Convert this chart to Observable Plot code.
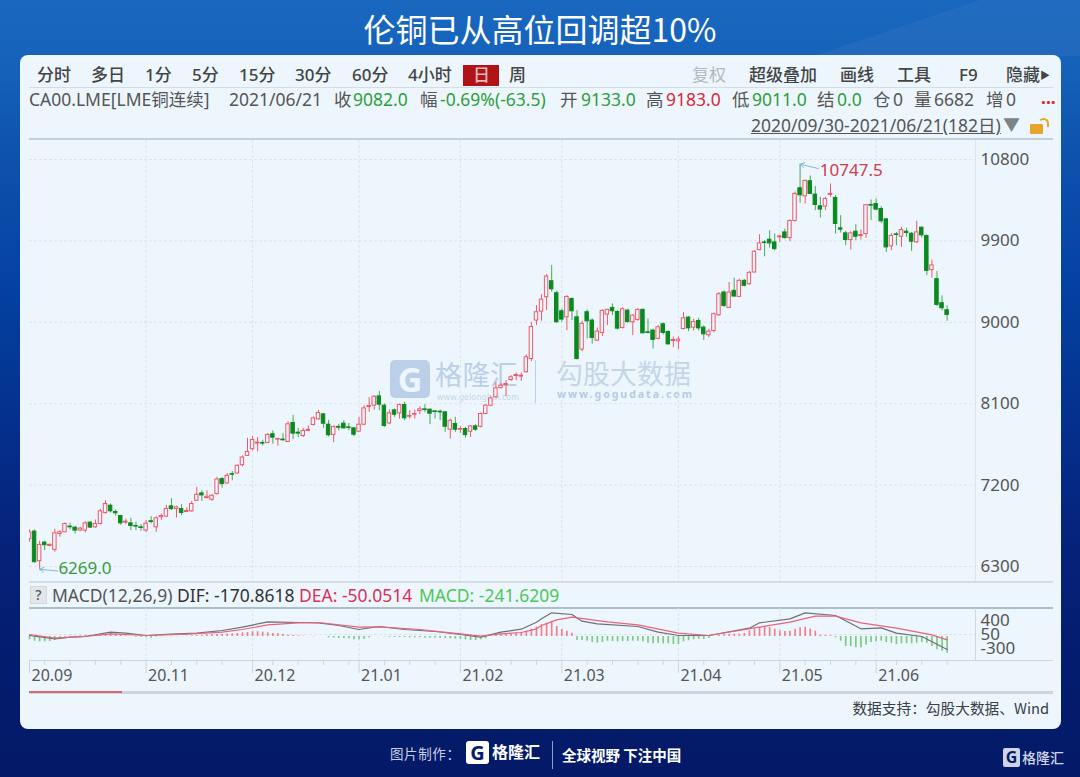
<!DOCTYPE html>
<html lang="zh">
<head>
<meta charset="utf-8">
<script src="https://cdn.jsdelivr.net/npm/d3@7"></script>
<script src="https://cdn.jsdelivr.net/npm/@observablehq/plot@0.6"></script>
<style>
html,body{margin:0;padding:0}
body{width:1080px;height:777px;overflow:hidden;position:relative;font-family:"Noto Sans","Noto Sans CJK SC",sans-serif;
background:linear-gradient(180deg,#1967bf 0%,#1662ba 8%,#0e52ae 20%,#0440a0 38%,#052f8c 55%,#05227a 70%,#041c6e 85%,#041a68 100%);}
#band{position:absolute;left:0;top:0;width:1080px;height:56px;background:rgba(255,255,255,.045);clip-path:polygon(980px 0,1080px 0,1080px 56px,814px 56px)}
#title{position:absolute;left:0;width:1080px;top:5px;text-align:center;color:#fff;font-size:32px;line-height:46px;font-weight:400;font-family:"Noto Sans CJK SC","Noto Sans",sans-serif}
#panel{position:absolute;left:20px;top:55px;width:1041px;height:674px;background:#edf6fd;border-radius:8px}
.a{position:absolute;white-space:nowrap;line-height:22px}
.r1{top:64px;font-size:17px;color:#444;font-weight:500}
.r2{top:88px;font-size:17.5px;color:#555}
.g{color:#2f9e3a}.red{color:#d8293c}
.hl{position:absolute;height:1px}
#main,#macd{position:absolute;left:0}
#main{top:140px}#macd{top:608px}
svg{background:transparent;display:block;overflow:visible}
</style>
</head>
<body>
<div id="band"></div>
<div id="title">伦铜已从高位回调超10%</div>
<div id="panel"></div>

<!-- toolbar -->
<span class="a r1" style="left:37px">分时</span><span class="a r1" style="left:91px">多日</span>
<span class="a r1" style="left:145px">1分</span><span class="a r1" style="left:192px">5分</span>
<span class="a r1" style="left:239px">15分</span><span class="a r1" style="left:295px">30分</span>
<span class="a r1" style="left:352px">60分</span><span class="a r1" style="left:408px">4小时</span>
<div style="position:absolute;left:463px;top:65px;width:36px;height:21px;background:#b01318"></div>
<span class="a r1" style="left:473px;color:#e9b9bb">日</span><span class="a r1" style="left:509px">周</span>
<span class="a r1" style="left:692px;color:#b5b9bd;font-weight:400">复权</span><span class="a r1" style="left:749px">超级叠加</span>
<span class="a r1" style="left:840px">画线</span><span class="a r1" style="left:897px">工具</span>
<span class="a r1" style="left:959px">F9</span><span class="a r1" style="left:1006px">隐藏</span>
<span class="a r1" style="left:1040px;font-size:10px">▶</span>
<div class="hl" style="left:29px;top:87px;width:1024px;background:#d5dde4"></div>

<!-- quote row -->
<span class="a r2" style="left:29px">CA00.LME[LME铜连续]</span><span class="a r2" style="left:229px">2021/06/21</span>
<span class="a r2" style="left:334px">收</span><span class="a r2 g" style="left:353px">9082.0</span>
<span class="a r2" style="left:420px">幅</span><span class="a r2 g" style="left:440px">-0.69%(-63.5)</span>
<span class="a r2" style="left:560px">开</span><span class="a r2 g" style="left:581px">9133.0</span>
<span class="a r2" style="left:646px">高</span><span class="a r2 red" style="left:666px">9183.0</span>
<span class="a r2" style="left:732px">低</span><span class="a r2 g" style="left:752px">9011.0</span>
<span class="a r2" style="left:817px">结</span><span class="a r2 g" style="left:837px">0.0</span>
<span class="a r2" style="left:873px">仓</span><span class="a r2" style="left:893px">0</span>
<span class="a r2" style="left:914px">量</span><span class="a r2" style="left:934px">6682</span>
<span class="a r2" style="left:986px">增</span><span class="a r2" style="left:1006px">0</span>
<span class="a r2 red" style="left:1041px;font-weight:700;top:86px">...</span>
<span class="a r2" style="left:751px;top:114px;text-decoration:underline">2020/09/30-2021/06/21(182日)</span>
<span class="a" style="left:1003px;top:114px;font-size:17px;color:#7d8489">▼</span>
<div style="position:absolute;left:1030px;top:124px;width:13px;height:10px;background:#e8a52c;border-radius:1px"></div>
<div style="position:absolute;left:1038px;top:118px;width:7px;height:7px;border:2px solid #e8a52c;border-bottom:none;border-left-color:transparent;border-radius:6px 6px 0 0"></div>
<div class="hl" style="left:29px;top:138px;width:1024px;height:2px;background:#c3d0da"></div>

<!-- watermark -->
<div style="position:absolute;left:390px;top:360px;width:40px;height:38px;background:#bccfe8;border-radius:5px;color:#edf6fd;font:700 34px/38px 'Noto Sans';text-align:center">G</div>
<span class="a" style="left:435px;top:359px;line-height:28px;font-size:27.5px;color:#bccfe8;font-weight:400;font-family:'Noto Sans CJK SC'">格隆汇</span>
<span class="a" style="left:437px;top:392px;line-height:9px;font-size:8px;color:#c4d5ea;letter-spacing:.3px">www.gelonghui.com</span>
<div style="position:absolute;left:535px;top:360px;width:1px;height:43px;background:#bccfe8"></div>
<span class="a" style="left:556px;top:359px;line-height:27px;font-size:27px;color:#c4d5e8;font-family:'Noto Sans CJK SC'">勾股大数据</span>
<span class="a" style="left:557px;top:388px;line-height:12px;font-size:10.5px;font-weight:700;color:#b6cbe6;letter-spacing:2px">www.gogudata.com</span>

<div id="main"></div>

<!-- MACD header -->
<div style="position:absolute;left:30px;top:586px;width:17px;height:18px;background:#e2e6ea;border:1px solid #d4d9de;box-sizing:border-box;text-align:center;font:500 14px/16px 'Noto Sans';color:#555">?</div>
<span class="a" style="left:52px;top:584px;font-size:17.5px;color:#555">MACD(12,26,9)</span>
<span class="a" style="left:177px;top:584px;font-size:17.5px;color:#333">DIF: -170.8618</span>
<span class="a" style="left:299px;top:584px;font-size:17.5px;color:#d8315a">DEA: -50.0514</span>
<span class="a" style="left:419px;top:584px;font-size:17.5px;color:#4cc75a">MACD: -241.6209</span>
<div class="hl" style="left:29px;top:581px;width:1024px;height:2px;background:#d5dde4"></div>
<div class="hl" style="left:29px;top:607px;width:1024px;height:2px;background:#a9bfcc"></div>
<div class="hl" style="left:29px;top:660px;width:1024px;height:1px;background:#cdd5dc"></div>

<div id="macd"></div>

<!-- scrollbar and source -->
<div class="hl" style="left:29px;top:691px;width:1024px;height:3px;background:#cfd5da"></div>
<div class="hl" style="left:29px;top:691px;width:93px;height:2px;background:#d9696f"></div>
<span class="a" style="right:31px;top:697px;font-size:14.7px;color:#3a3f48;font-family:'Noto Sans CJK SC'">数据支持：勾股大数据、Wind</span>

<!-- footer -->
<span class="a" style="left:390px;top:742px;font-size:13.5px;color:#c7cfe4;letter-spacing:.6px;font-family:'Noto Sans CJK SC'">图片制作：</span>
<div style="position:absolute;left:466px;top:741px;width:23px;height:23px;background:#fff;border-radius:3px;color:#041b6b;font:700 20px/23px 'Noto Sans';text-align:center">G</div>
<span class="a" style="left:492px;top:739px;font-size:16px;color:#fff;font-weight:700;line-height:24px;font-family:'Noto Sans CJK SC'">格隆汇</span>
<div style="position:absolute;left:552px;top:741px;width:1px;height:28px;background:#8f9cc4"></div>
<span class="a" style="left:562px;top:744px;font-size:14.5px;color:#fff;font-weight:700;font-family:'Noto Sans CJK SC'">全球视野 下注中国</span>
<div style="position:absolute;left:1003px;top:748px;width:17px;height:19px;background:#cfd3e4;border-radius:2px;color:#041b6b;font:700 16px/19px 'Noto Sans';text-align:center">G</div>
<span class="a" style="left:1022px;top:746px;font-size:14px;color:#cfd3e4;font-weight:500;font-family:'Noto Sans CJK SC'">格隆汇</span>

<script>
// Daily candles, LME copper, 2020/09/30 – 2021/06/21
const open = [
6605,6686,6359,6564,6528,6484,6660,6678,6741,6730,6697,6697,6785,6733,6770,6891,6972,6902,6858,6785,
6777,6748,6733,6697,6800,6733,6844,6851,6965,6935,6935,6902,6910,7027,7108,7057,7038,7101,7266,7218,
7321,7328,7420,7523,7597,7659,7666,7666,7762,7703,7703,7677,7887,7780,7743,7799,7865,7927,7982,7868,
7755,7843,7879,7838,7827,7790,7868,8063,8078,8181,8078,7882,8026,7993,8085,7956,7978,8019,8037,8034,
8015,8011,8004,7812,7875,7812,7820,7790,7849,7845,7986,8078,8170,8273,8307,8362,8406,8399,8447,8594,
9019,9118,9277,9454,9321,9122,9055,9258,9055,8698,9111,9019,8797,8882,9085,9159,9114,8937,9129,9000,
9026,9137,8889,8908,8816,8978,8893,8793,8789,8926,9052,8941,9015,8941,8856,8904,9078,9329,9159,9347,
9281,9458,9421,9551,9798,9883,9913,9883,9939,9994,9931,10120,10482,10393,10560,10412,10283,10279,10408,10375,
10039,9983,9909,10002,9954,9976,10297,10308,10253,10138,9839,9972,9946,10002,9979,9883,10046,9954,9577,9477,
9211,9133];
const close = [
6678,6348,6539,6535,6539,6667,6678,6770,6733,6697,6719,6777,6730,6770,6910,6991,6910,6888,6777,6796,
6748,6741,6726,6774,6792,6833,6858,6935,6935,6954,6891,6913,6991,7093,7086,7071,7082,7262,7211,7303,
7314,7413,7505,7567,7699,7670,7659,7755,7725,7710,7696,7872,7769,7769,7799,7810,7938,7997,7879,7751,
7843,7835,7827,7831,7757,7868,8048,8074,8177,8089,7853,7993,7978,8085,7938,7964,7986,8037,8030,7989,
8008,8004,7845,7912,7812,7820,7753,7849,7812,7986,8078,8159,8270,8299,8318,8391,8417,8410,8613,8948,
9111,9251,9506,9365,9000,9030,9280,9122,8594,8982,9011,8827,8897,9126,9137,9122,8930,9144,9004,9074,
9137,8878,8882,8805,8945,8882,8756,8804,8808,9044,8933,9004,8933,8867,8897,9089,9310,9181,9329,9285,
9458,9403,9547,9780,9872,9876,9872,9809,9950,9931,10120,10419,10404,10563,10419,10297,10246,10364,10419,10087,
10024,9909,9983,9946,9965,10294,10290,10246,10116,9828,9954,9965,10020,9987,9891,9994,9961,9569,9628,9192,
9155,9082];
const high = [
6704,6704,6579,6579,6550,6711,6697,6781,6777,6741,6733,6796,6796,6814,6932,7027,6991,6924,6866,6825,
6833,6789,6763,6807,6851,6851,6880,6976,7049,6968,6983,6946,7020,7174,7137,7137,7093,7284,7284,7328,
7350,7424,7523,7718,7736,7725,7696,7769,7799,7718,7769,7901,7971,7828,7828,7854,7953,8026,7993,7916,
7854,7872,7912,7882,7838,7949,8078,8170,8189,8236,8096,8030,8041,8096,8115,8023,8030,8067,8089,8041,
8023,8030,8015,7930,7949,7845,7838,7857,7868,7997,8089,8177,8332,8325,8355,8410,8439,8439,8639,9000,
9185,9306,9528,9627,9343,9148,9295,9269,9129,9011,9137,9037,8937,9137,9144,9203,9129,9159,9144,9085,
9151,9148,9037,8923,8963,8993,8904,8837,8837,9107,9063,9033,9044,8959,8922,9103,9329,9347,9440,9488,
9477,9473,9562,9791,9968,9902,10013,9976,9965,10031,10131,10441,10747.5,10574,10619,10501,10382,10382,10530,10401,
10179,10005,10002,10079,10020,10301,10353,10364,10279,10149,9983,9994,10050,10039,9994,10116,10053,9965,9687,9562,
9292,9183];
const low = [
6568,6337,6269,6476,6517,6458,6623,6675,6704,6660,6686,6671,6722,6722,6759,6880,6891,6855,6755,6763,
6697,6697,6689,6678,6770,6678,6807,6844,6917,6836,6862,6895,6899,7020,7020,7046,7020,7090,7167,7211,
7248,7321,7402,7516,7578,7567,7633,7659,7652,7630,7681,7670,7703,7725,7725,7791,7854,7916,7828,7732,
7670,7799,7820,7801,7735,7783,7857,8004,8030,8023,7838,7868,7949,7930,7912,7930,7930,7978,8000,7868,
7930,7912,7783,7709,7783,7772,7720,7727,7794,7831,7978,8067,8159,8262,8177,8347,8355,8347,8439,8565,
8963,9011,9129,9332,8989,9000,8908,9019,8583,8675,8816,8760,8786,8841,8963,9074,8915,8926,8989,8853,
9011,8871,8871,8705,8805,8860,8749,8719,8697,8915,8897,8904,8904,8800,8830,8885,9063,9163,9152,9274,
9274,9392,9410,9543,9791,9724,9821,9791,9883,9920,9894,10109,10316,10308,10412,10234,10153,10234,10382,9976,
9987,9846,9798,9902,9909,9928,10124,10234,10094,9772,9791,9846,9828,9939,9784,9872,9931,9517,9488,9177,
9126,9011];

const priceTicks = [10800,9900,9000,8100,7200,6300];
const monthIndex = [0,23,44,65,85,105,128,148,167];
const monthLabel = ["20.09","20.11","20.12","21.01","21.02","21.03","21.04","21.05","21.06"];
const minorIndex = [3,8,13,18,28,33,38,48,53,58,63,70,75,80,90,95,100,110,115,120,125,133,138,143,153,158,163,171,176,181];
const extremes = [
  {i:152, price:10747.5, label:"10747.5", color:"#d23a4c", tailI:155.6, tailP:10700, labelI:155.9, labelP:10675},
  {i:2,   price:6269,    label:"6269.0",  color:"#3a9a46", tailI:5.6,   tailP:6250,  labelI:5.7,   labelP:6280}
];

// MACD panel, read against the panel's own axis
const macdTicks = [400,50,-300];
const histValue = [
-83,-117,-133,-133,-125,-100,-67,-25,8,8,17,25,25,33,42,58,67,67,42,17,
0,-17,-25,-33,-42,-17,-8,-8,-8,-8,0,8,17,25,33,42,50,50,50,58,
67,75,92,100,117,117,108,92,75,67,50,33,25,17,8,0,-8,0,0,-33,
-42,-50,-50,-58,-83,-83,-67,-33,0,0,-8,-17,-25,-25,-25,-33,-33,-33,-42,-42,
-42,-50,-50,-58,-67,-75,-83,-100,-100,-83,-58,8,33,42,58,58,75,100,133,183,
233,292,333,383,250,175,133,83,-100,-100,-117,-150,-167,-150,-117,-125,-133,-125,-125,-117,
-117,-133,-167,-183,-167,-183,-183,-200,-200,-133,-108,-83,-67,-75,-50,0,25,42,50,58,
58,75,142,183,225,250,225,183,142,125,133,183,217,233,183,133,33,25,17,-33,
-117,-250,-250,-283,-283,-217,-150,-133,-117,-150,-167,-200,-183,-183,-183,-167,-150,-167,-250,-333,
-367,-417];
const difIndex = [0,5,8,11,16,19,23,28,33,38,42,47,53,57,61,65,69,74,80,85,89,93,97,100,101,103,107,109,112,120,124,128,134,142,144,150,153,159,164,168,171,176,181];
const difValue = [25,-58,-17,0,108,83,25,58,83,150,233,367,350,342,275,175,250,175,125,50,-17,108,183,358,442,592,550,383,317,250,108,25,25,208,342,442,592,525,192,217,83,0,-325];
const deaIndex = [0,5,11,16,23,31,38,42,47,53,57,65,69,77,85,89,93,97,100,101,104,107,114,120,128,134,143,150,155,159,164,171,178,181];
const deaValue = [50,-42,0,67,25,58,108,175,292,342,350,233,242,175,67,8,67,100,192,275,417,483,367,292,83,25,217,358,508,508,342,208,42,-83];

const idx = d3.range(open.length);
const UP = "#ef5868", DOWN = "#0a8a1e", PANEL = "#edf6fd";
const GRID = "#dde3ea";
const xScale = {domain:[0,186.6]};
const isUp = i => close[i] >= open[i];

const main = Plot.plot({
  width:1080, height:442, marginLeft:29, marginRight:105, marginTop:0, marginBottom:0,
  x:{...xScale, axis:null},
  y:{domain:[6123,11010], axis:null},
  style:{background:"transparent"},
  marks:[
    Plot.ruleY(priceTicks,{stroke:GRID,strokeDasharray:"3,2"}),
    Plot.ruleX(monthIndex.slice(1),{stroke:GRID,strokeDasharray:"3,2"}),
    Plot.ruleX([186.6],{stroke:GRID}),
    Plot.ruleX(idx,{x:i=>i,y1:i=>low[i],y2:i=>high[i],stroke:i=>isUp(i)?UP:"#4aa653",strokeWidth:1,clip:"frame"}),
    Plot.rect(idx,{x1:i=>i-0.34,x2:i=>i+0.34,y1:i=>open[i],y2:i=>close[i],
      fill:i=>isUp(i)?PANEL:DOWN,stroke:i=>isUp(i)?UP:DOWN,strokeWidth:1,clip:"frame"}),
    Plot.arrow(extremes,{x1:"tailI",y1:"tailP",x2:"i",y2:"price",stroke:"#7fb7dc",strokeWidth:1,bend:0,headLength:7}),
    Plot.text(extremes,{x:"labelI",y:"labelP",text:"label",fill:"color",fontSize:17,textAnchor:"start",fontFamily:"Noto Sans"}),
    Plot.axisY({anchor:"right",ticks:priceTicks,tickSize:0,tickPadding:5,label:null,fontSize:17,fill:"#555",fontFamily:"Noto Sans",tickFormat:d=>String(d)})
  ]
});
document.getElementById("main").appendChild(main);

const macd = Plot.plot({
  width:1080, height:72, marginLeft:29, marginRight:105, marginTop:0, marginBottom:20,
  x:{...xScale, axis:null},
  y:{domain:[-600,700], axis:null},
  style:{background:"transparent"},
  marks:[
    Plot.ruleY([50],{stroke:GRID,strokeDasharray:"3,2"}),
    Plot.ruleX(monthIndex.slice(1),{stroke:GRID,strokeDasharray:"3,2"}),
    Plot.ruleX([186.6],{stroke:"#cfd7de"}),
    Plot.ruleX(idx,{x:i=>i,y1:0,y2:i=>histValue[i],stroke:i=>histValue[i]>=0?"#f0818c":"#7ccb84",strokeWidth:1.7}),
    Plot.line(difIndex,{x:d=>d,y:(d,j)=>difValue[j],stroke:"#6d7074",strokeWidth:1.2}),
    Plot.line(deaIndex,{x:d=>d,y:(d,j)=>deaValue[j],stroke:"#e8647c",strokeWidth:1.2}),
    Plot.axisY({anchor:"right",ticks:macdTicks,tickSize:0,tickPadding:5,label:null,fontSize:17,fill:"#555",fontFamily:"Noto Sans",tickFormat:d=>String(d)}),
    Plot.axisX({anchor:"bottom",ticks:minorIndex,tickSize:5,tickFormat:()=>"",label:null,stroke:"#cdd5dc"}),
    Plot.axisX({anchor:"bottom",ticks:monthIndex,tickSize:13,tickFormat:()=>"",label:null,stroke:"#cdd5dc"}),
    Plot.text(monthIndex,{x:d=>d,text:(d,j)=>monthLabel[j],frameAnchor:"bottom",dy:15,dx:2,lineAnchor:"middle",textAnchor:"start",fontSize:16,fill:"#555",fontFamily:"Noto Sans"})
  ]
});
document.getElementById("macd").appendChild(macd);
</script>
</body>
</html>
